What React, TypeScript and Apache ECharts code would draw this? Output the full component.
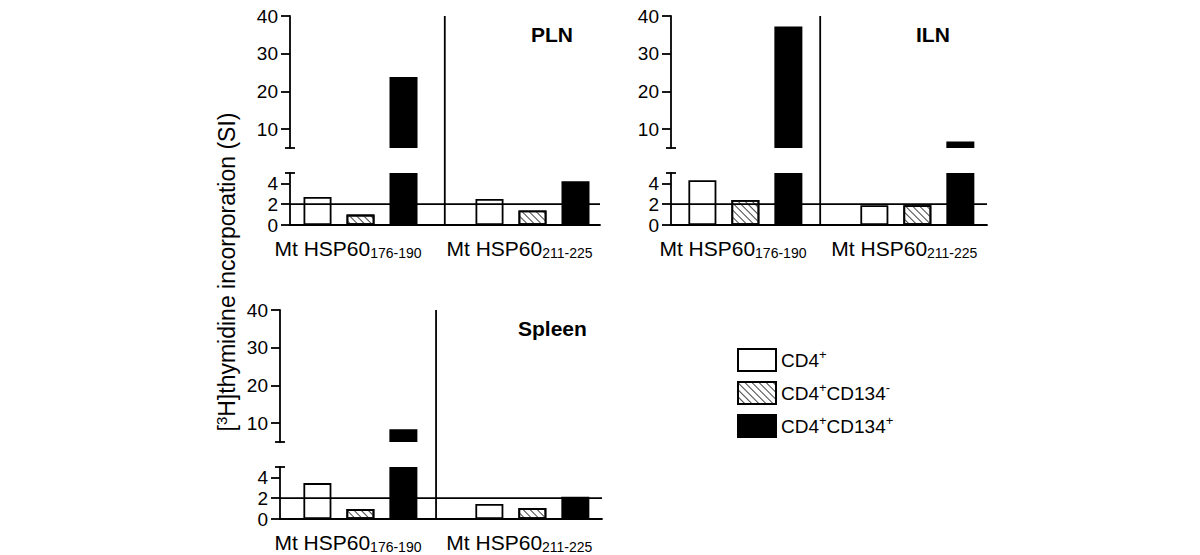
import React, { useEffect, useRef } from 'react';
import * as echarts from 'echarts';

const FONT = "'Liberation Sans', Arial, Helvetica, sans-serif";

// ---------- data ----------
const peptideName = 'Mt HSP60';
const peptideSubs = ['176-190', '211-225'];
const seriesNames = ['CD4+', 'CD4+CD134-', 'CD4+CD134+'];
const panelTitles = ['PLN', 'ILN', 'Spleen'];

// values: [Mt HSP60 176-190, Mt HSP60 211-225]
const plnCD4 = [2.7, 2.5];
const plnCD134Neg = [1.0, 1.4];
const plnCD134Pos = [23.8, 4.2];
const ilnCD4 = [4.3, 1.9];
const ilnCD134Neg = [2.4, 1.9];
const ilnCD134Pos = [37.2, 6.7];
const spleenCD4 = [3.45, 1.45];
const spleenCD134Neg = [0.95, 1.05];
const spleenCD134Pos = [8.4, 2.15];

const lowerTicks = [0, 2, 4];
const upperTicks = [10, 20, 30, 40];
const breakValue = 5;
const upperMax = 40;
const threshold = 2;
const yTitle = '[{s|3}H]thymidine incorporation (SI)';

const panelValues = [
  [plnCD4, plnCD134Neg, plnCD134Pos],
  [ilnCD4, ilnCD134Neg, ilnCD134Pos],
  [spleenCD4, spleenCD134Neg, spleenCD134Pos],
];

// ---------- layout ----------
const UPPER_H = 132;
const GAP = 25;
const LOWER_H = 52;
const layouts = [
  { left: 290, width: 310, top: 16, xMin: -0.14, xMax: 7.07, divider: 3.46, titleLeft: 531, titleTop: 24 },
  { left: 671, width: 316, top: 16, xMin: -0.23, xMax: 7.12, divider: 3.24, titleLeft: 916, titleTop: 24 },
  { left: 280, width: 322, top: 310, xMin: -0.37, xMax: 7.12, divider: 3.26, titleLeft: 518, titleTop: 318 },
];

const BLACK = '#000';
const LINE_W = 1.8;

const seriesStyles: any[] = [
  { color: '#fff', borderColor: BLACK, borderWidth: LINE_W },
  {
    color: '#fff',
    borderColor: BLACK,
    borderWidth: LINE_W,
    decal: {
      symbol: 'rect',
      symbolSize: 1,
      dashArrayX: [1, 0],
      dashArrayY: [1, 4],
      rotation: Math.PI / 4,
      color: '#444',
    },
  },
  { color: BLACK, borderColor: BLACK, borderWidth: LINE_W },
];

function mainY(gridIndex: number, min: number, max: number, ticks: number[], startValue: number) {
  return {
    gridIndex,
    type: 'value',
    position: 'left',
    min,
    max,
    startValue,
    axisLine: { show: true, onZero: false, lineStyle: { color: BLACK, width: LINE_W } },
    axisTick: { show: true, length: 9, customValues: ticks, lineStyle: { color: BLACK, width: LINE_W } },
    axisLabel: { show: true, customValues: ticks, fontSize: 19, color: BLACK, margin: 12, fontFamily: FONT },
    splitLine: { show: false },
  };
}

function capY(gridIndex: number, min: number, max: number, inside: boolean) {
  return {
    gridIndex,
    type: 'value',
    position: 'left',
    min,
    max,
    axisLine: { show: false, onZero: false },
    axisTick: { show: true, inside, length: 5, customValues: [breakValue], lineStyle: { color: BLACK, width: LINE_W } },
    axisLabel: { show: false },
    splitLine: { show: false },
  };
}

function supRich(name: string) {
  return name
    .split(/([+-])/)
    .filter((t) => t.length > 0)
    .map((t) => (t === '+' || t === '-' ? `{s|${t}}` : `{n|${t}}`))
    .join('');
}

function buildOption() {
  const grids: any[] = [];
  const xAxes: any[] = [];
  const yAxes: any[] = [];
  const series: any[] = [];
  const refs: { xL: number; yL: number }[] = [];

  layouts.forEach((L, p) => {
    const upperTop = L.top;
    const lowerTop = L.top + UPPER_H + GAP;
    const gU = grids.length;
    grids.push({ left: L.left, width: L.width, top: upperTop, height: UPPER_H });
    const gL = grids.length;
    grids.push({ left: L.left, width: L.width, top: lowerTop, height: LOWER_H });
    const gF = grids.length;
    grids.push({ left: L.left, width: L.width, top: upperTop, height: UPPER_H + GAP + LOWER_H });

    const xU = xAxes.length;
    xAxes.push({ gridIndex: gU, type: 'value', min: L.xMin, max: L.xMax, show: false });
    const xL = xAxes.length;
    xAxes.push({
      gridIndex: gL,
      type: 'value',
      min: L.xMin,
      max: L.xMax,
      position: 'bottom',
      axisLine: { show: true, onZero: false, lineStyle: { color: BLACK, width: LINE_W } },
      axisTick: { show: false },
      axisLabel: { show: false },
      splitLine: { show: false },
    });
    const xF = xAxes.length;
    xAxes.push({ gridIndex: gF, type: 'value', min: L.xMin, max: L.xMax, show: false });

    const yU = yAxes.length;
    yAxes.push(mainY(gU, breakValue, upperMax, upperTicks, breakValue));
    yAxes.push(capY(gU, breakValue, upperMax, false));
    yAxes.push(capY(gU, breakValue, upperMax, true));
    const yL = yAxes.length;
    yAxes.push(mainY(gL, 0, breakValue, lowerTicks, 0));
    yAxes.push(capY(gL, 0, breakValue, false));
    yAxes.push(capY(gL, 0, breakValue, true));
    const yF = yAxes.length;
    yAxes.push({ gridIndex: gF, type: 'value', min: 0, max: 1, show: false });

    refs.push({ xL, yL });

    panelValues[p].forEach((vals, s) => {
      const upperData: number[][] = [];
      const lowerData: number[][] = [];
      vals.forEach((v, g) => {
        const slot = g * 4 + s + 0.5;
        lowerData.push([slot, Math.min(v, breakValue)]);
        if (v > breakValue) upperData.push([slot, v]);
      });
      const common = {
        type: 'bar',
        name: seriesNames[s],
        barWidth: 28,
        barGap: '-100%',
        clip: true,
        itemStyle: seriesStyles[s],
        silent: true,
        z: 2,
      };
      series.push({ ...common, xAxisIndex: xU, yAxisIndex: yU, data: upperData });
      series.push({ ...common, xAxisIndex: xL, yAxisIndex: yL, data: lowerData });
    });

    series.push({
      type: 'line',
      name: 'threshold',
      xAxisIndex: xL,
      yAxisIndex: yL,
      data: [
        [L.xMin, threshold],
        [L.xMax, threshold],
      ],
      symbol: 'none',
      silent: true,
      lineStyle: { color: BLACK, width: LINE_W },
      z: 5,
    });
    series.push({
      type: 'line',
      name: 'divider',
      xAxisIndex: xF,
      yAxisIndex: yF,
      data: [
        [L.divider, 0],
        [L.divider, 1],
      ],
      symbol: 'none',
      silent: true,
      lineStyle: { color: BLACK, width: LINE_W },
      z: 5,
    });
  });

  const option: any = {
    animation: false,
    backgroundColor: '#fff',
    textStyle: { fontFamily: FONT },
    title: layouts.map((L, p) => ({
      text: panelTitles[p],
      left: L.titleLeft,
      top: L.titleTop,
      padding: 0,
      textStyle: { fontSize: 21, fontWeight: 'bold', color: BLACK, fontFamily: FONT },
    })),
    legend: {
      orient: 'vertical',
      left: 737,
      top: 348,
      itemWidth: 38,
      itemHeight: 22,
      itemGap: 9,
      padding: 0,
      selectedMode: false,
      data: seriesNames.map((name) => ({ name, icon: 'rect' })),
      formatter: (name: string) => supRich(name),
      textStyle: {
        color: BLACK,
        fontFamily: FONT,
        rich: {
          n: { fontSize: 19, lineHeight: 24, color: BLACK, fontFamily: FONT },
          s: { fontSize: 13, lineHeight: 10, verticalAlign: 'top', color: BLACK, fontFamily: FONT },
        },
      },
    },
    grid: grids,
    xAxis: xAxes,
    yAxis: yAxes,
    series,
  };
  return { option, refs };
}

export default function App() {
  const ref = useRef<HTMLDivElement>(null);
  useEffect(() => {
    if (!ref.current) return;
    const chart = echarts.init(ref.current, undefined, { renderer: 'svg' });
    const { option, refs } = buildOption();
    chart.setOption(option);

    const graphics: any[] = [];
    refs.forEach((r) => {
      const baseY = chart.convertToPixel({ yAxisIndex: r.yL }, 0) as number;
      peptideSubs.forEach((sub, g) => {
        const px = chart.convertToPixel({ xAxisIndex: r.xL }, g * 4 + 0.5) as number;
        graphics.push({
          type: 'text',
          x: px - 43,
          y: baseY + 11,
          silent: true,
          style: {
            text: `{m|${peptideName}}{s|${sub}}`,
            align: 'left',
            verticalAlign: 'top',
            fill: BLACK,
            fontFamily: FONT,
            rich: {
              m: { fontSize: 21, lineHeight: 24, fill: BLACK, fontFamily: FONT },
              s: { fontSize: 14, lineHeight: 14, verticalAlign: 'bottom', fill: BLACK, fontFamily: FONT },
            },
          },
        });
      });
    });
    graphics.push({
      type: 'text',
      x: 227,
      y: 272,
      rotation: Math.PI / 2,
      silent: true,
      style: {
        text: yTitle,
        align: 'center',
        verticalAlign: 'middle',
        fontSize: 23,
        lineHeight: 27,
        fontFamily: FONT,
        fill: BLACK,
        rich: {
          s: { fontSize: 15, lineHeight: 10, verticalAlign: 'top', fill: BLACK, fontFamily: FONT },
        },
      },
    });
    chart.setOption({ graphic: graphics });

    return () => chart.dispose();
  }, []);
  return (
    <div
      ref={ref}
      style={{ position: 'absolute', left: 0, top: 0, width: '1200px', height: '555px', background: '#fff' }}
    />
  );
}
